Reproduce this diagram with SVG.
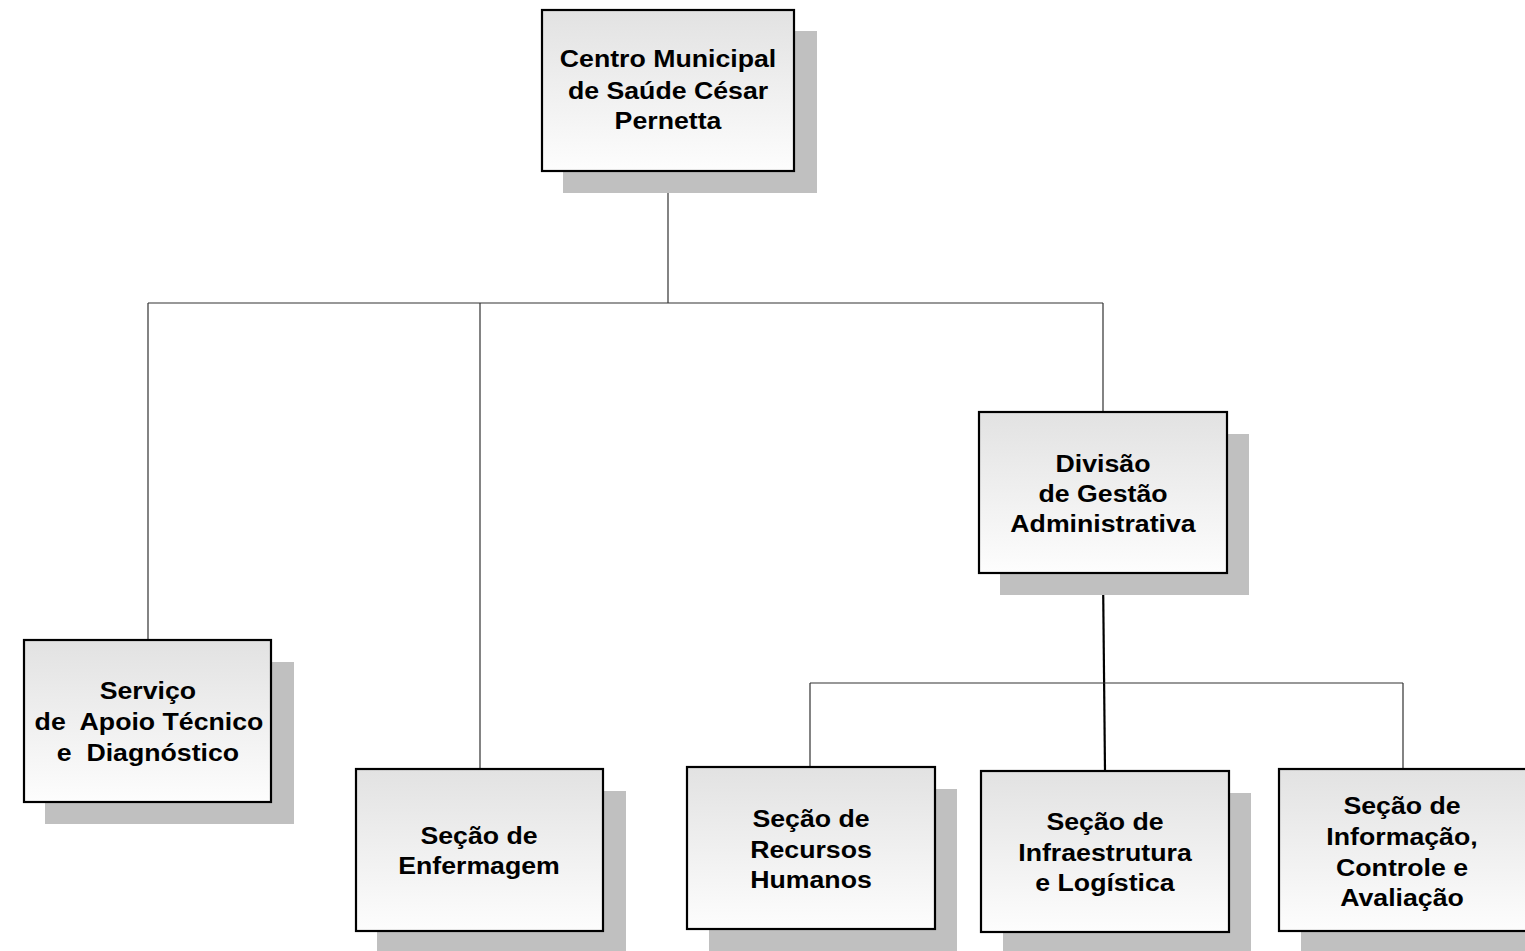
<svg xmlns="http://www.w3.org/2000/svg" width="1525" height="951" viewBox="0 0 1525 951">
<defs>
<linearGradient id="g" x1="0" y1="0" x2="0" y2="1">
<stop offset="0" stop-color="#e2e2e2"/>
<stop offset="1" stop-color="#fdfdfd"/>
</linearGradient>
<style>
.sh{fill:#c0c0c0}
.bx{fill:url(#g);stroke:#000;stroke-width:2.2}
.t{font-family:"Liberation Sans",Arial,sans-serif;font-weight:bold;font-size:24.5px;fill:#000;text-anchor:middle;white-space:pre}
.c{fill:none;stroke:#333;stroke-width:1.2}
.ck{fill:none;stroke:#000;stroke-width:2.2}
</style>
</defs>
<rect width="1525" height="951" fill="#fff"/>
<g id="connectors">
<path class="c" d="M668 171V303M148 303H1103M148 303V640M480 303V769M1103 303V412"/>
<path class="ck" d="M1103 573L1105 771"/>
<path class="c" d="M810 683H1403M810 683V767M1403 683V769"/>
</g>
<g id="n-centro">
<rect class="sh" x="563" y="31" width="254" height="162"/>
<rect class="bx" x="542" y="10" width="252" height="161"/>
<g transform="translate(668 0) scale(1.09 1)">
<text class="t" x="0" y="67">Centro Municipal</text>
<text class="t" x="0" y="99">de Saúde César</text>
<text class="t" x="0" y="129">Pernetta</text>
</g>
</g>
<g id="n-divisao">
<rect class="sh" x="1000" y="434" width="249" height="161"/>
<rect class="bx" x="979" y="412" width="248" height="161"/>
<g transform="translate(1103 0) scale(1.09 1)">
<text class="t" x="0" y="472">Divisão</text>
<text class="t" x="0" y="502">de Gestão</text>
<text class="t" x="0" y="532">Administrativa</text>
</g>
</g>
<g id="n-servico">
<rect class="sh" x="45" y="662" width="249" height="162"/>
<rect class="bx" x="24" y="640" width="247" height="162"/>
<g transform="translate(149 0) scale(1.09 1)">
<text class="t" x="-1" y="699">Serviço</text>
<text class="t" x="0" y="730">de  Apoio Técnico</text>
<text class="t" x="-1" y="761">e  Diagnóstico</text>
</g>
</g>
<g id="n-enfermagem">
<rect class="sh" x="377" y="791" width="249" height="162"/>
<rect class="bx" x="356" y="769" width="247" height="162"/>
<g transform="translate(479 0) scale(1.09 1)">
<text class="t" x="0" y="844">Seção de</text>
<text class="t" x="0" y="874">Enfermagem</text>
</g>
</g>
<g id="n-recursos">
<rect class="sh" x="709" y="789" width="248" height="164"/>
<rect class="bx" x="687" y="767" width="248" height="162"/>
<g transform="translate(811 0) scale(1.09 1)">
<text class="t" x="0" y="827">Seção de</text>
<text class="t" x="0" y="858">Recursos</text>
<text class="t" x="0" y="888">Humanos</text>
</g>
</g>
<g id="n-infra">
<rect class="sh" x="1003" y="793" width="248" height="160"/>
<rect class="bx" x="981" y="771" width="248" height="161"/>
<g transform="translate(1105 0) scale(1.09 1)">
<text class="t" x="0" y="830">Seção de</text>
<text class="t" x="0" y="861">Infraestrutura</text>
<text class="t" x="0" y="891">e Logística</text>
</g>
</g>
<g id="n-info">
<rect class="sh" x="1301" y="791" width="248" height="162"/>
<rect class="bx" x="1279" y="769" width="248" height="162"/>
<g transform="translate(1402 0) scale(1.09 1)">
<text class="t" x="0" y="814">Seção de</text>
<text class="t" x="0" y="845">Informação,</text>
<text class="t" x="0" y="876">Controle e</text>
<text class="t" x="0" y="906">Avaliação</text>
</g>
</g>
</svg>
